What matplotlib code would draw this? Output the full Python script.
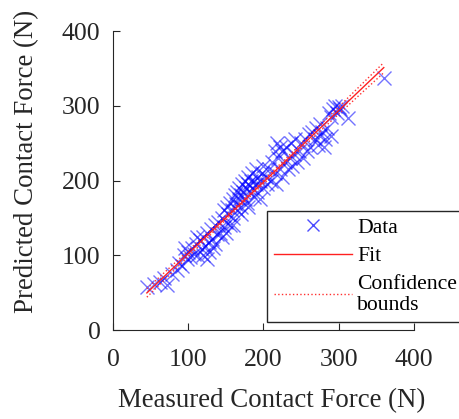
import numpy as np
import matplotlib
matplotlib.use("Agg")
import matplotlib.pyplot as plt
from matplotlib.lines import Line2D

# Measured / predicted contact force (N)
measured = [45, 55, 62, 68, 72, 78, 85, 88, 92, 95, 98, 100, 96,
            102, 105, 108, 110, 112, 115, 118, 120, 122, 125, 127, 128, 130, 132, 135, 136, 138, 140, 112, 120, 133, 125,
            142, 145, 147, 148, 150, 152, 153, 155, 156, 158, 160, 160, 162, 163, 165, 165, 167, 168, 170, 170, 172, 173,
            175, 175, 177, 178, 180, 180, 182, 183, 185, 185, 187, 188, 190, 190, 192, 193, 195, 196, 198, 200, 200,
            160, 170, 180, 150, 145,
            203, 205, 207, 210, 212, 215, 217, 220, 222, 225, 225, 228, 230, 232, 235, 237, 238, 240, 242, 245, 247,
            250, 252, 255, 258, 260, 215, 218, 222,
            262, 265, 268, 270, 272, 275, 278, 280, 282, 285, 287, 290, 292, 295, 298, 300, 302, 305, 313, 360, 290, 275]
predicted = [57, 62, 64, 70, 60, 75, 80, 90, 85, 100, 95, 105, 110,
             98, 110, 102, 115, 100, 120, 108, 125, 112, 130, 118, 105, 135, 122, 140, 115, 128, 145, 125, 100, 110, 95,
             130, 150, 138, 160, 145, 165, 155, 140, 170, 160, 175, 150, 180, 168, 185, 160, 175, 190, 180, 165, 195, 185,
             200, 175, 190, 170, 195, 205, 185, 200, 190, 210, 178, 200, 195, 215, 185, 205, 200, 175, 210, 190, 220,
             140, 155, 165, 130, 125,
             205, 195, 215, 200, 225, 210, 195, 230, 215, 240, 205, 225, 245, 215, 230, 250, 220, 235, 255, 225, 240,
             250, 230, 255, 240, 262, 240, 250, 245,
             245, 265, 255, 270, 248, 260, 265, 245, 255, 270, 290, 285, 295, 300, 290, 298, 295, 300, 283, 337, 260, 275]

x = np.array(measured, float)
y = np.array(predicted, float)

plt.rcParams['font.family'] = ['Liberation Serif', 'DejaVu Serif']
fig = plt.figure(figsize=(4.6, 4.19), dpi=100)
ax = fig.add_axes([0.2457, 0.2124, 0.654, 0.7136])

# linear fit with confidence bounds
n = len(x)
p = np.polyfit(x, y, 1)
xf = np.linspace(x.min(), x.max(), 200)
yf = np.polyval(p, xf)
res = y - np.polyval(p, x)
s = np.sqrt(np.sum(res**2) / (n - 2))
se = s * np.sqrt(1.0 / n + (xf - x.mean())**2 / np.sum((x - x.mean())**2))
t = 1.976
ax.plot(x, y, 'x', color='#0000ff', alpha=0.55, ms=10, mew=1.0, zorder=2)
ax.plot(xf, yf, '-', color='#ff2020', lw=1.0, zorder=3)
ax.plot(xf, yf + t * se, ':', color='#ff3030', lw=1.0, zorder=3)
ax.plot(xf, yf - t * se, ':', color='#ff3030', lw=1.0, zorder=3)

ax.set_xlim(0, 400)
ax.set_ylim(0, 400)
ax.set_xticks([0, 100, 200, 300, 400])
ax.set_yticks([0, 100, 200, 300, 400])
for sp in ['top', 'right']:
    ax.spines[sp].set_visible(False)
for sp in ['left', 'bottom']:
    ax.spines[sp].set_color('#262626')
    ax.spines[sp].set_linewidth(0.8)
ax.tick_params(direction='in', length=5, width=0.8, color='#262626',
               labelsize=18.5, labelcolor='#262626')
ax.tick_params(axis='x', pad=14)
ax.tick_params(axis='y', pad=9)
ax.set_xlabel('Measured Contact Force (N)', fontsize=19.4, color='#262626')
ax.set_ylabel('Predicted Contact Force (N)', fontsize=19.4, color='#262626')
ax.xaxis.set_label_coords(0.527, -0.235)
ax.yaxis.set_label_coords(-0.286, 0.565)
ax.yaxis.label.set_verticalalignment('center')
ax.xaxis.label.set_verticalalignment('center')

handles = [Line2D([], [], ls='none', marker='x', color='#0000ff', alpha=0.7, ms=9, mew=1.0),
           Line2D([], [], ls='-', color='#ff2020', lw=1.0),
           Line2D([], [], ls=':', color='#ff3030', lw=1.0)]
leg = ax.legend(handles, ['Data', 'Fit', 'Confidence\nbounds'],
                loc='lower left', bbox_to_anchor=(0.512, 0.027, 0.7, 0.368),
                mode='expand', fontsize=15.6, handlelength=3.6, handletextpad=0.25,
                labelspacing=0.38, borderpad=0.3, borderaxespad=0,
                fancybox=False, framealpha=1, edgecolor='#262626')
leg.get_frame().set_linewidth(1.0)
leg.set_clip_on(False)

fig.savefig('out.png', dpi=100)
